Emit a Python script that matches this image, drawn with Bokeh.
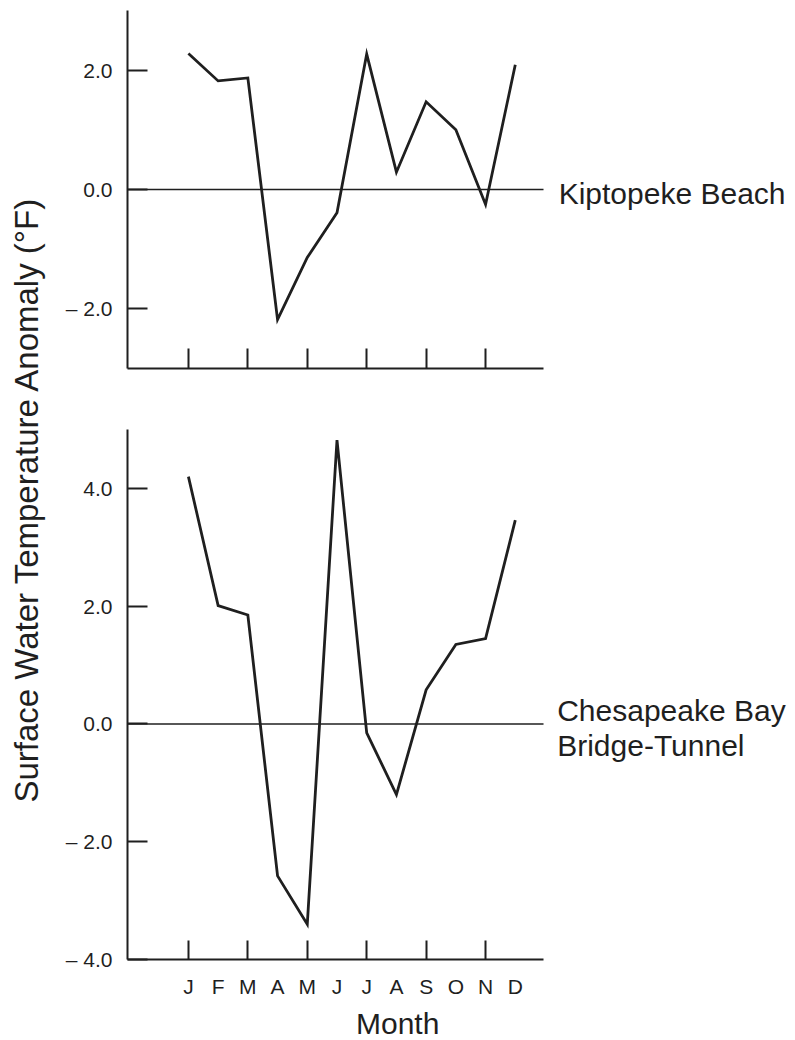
import math
from bokeh.plotting import figure
from bokeh.layouts import row, column
from bokeh.models import Range1d, FixedTicker, Label
from bokeh.embed import file_html
from bokeh.resources import INLINE

# ---- data ----
months = ["J", "F", "M", "A", "M", "J", "J", "A", "S", "O", "N", "D"]
month_num = list(range(1, 13))
kiptopeke = [2.28, 1.82, 1.87, -2.18, -1.14, -0.39, 2.27, 0.29, 1.47, 1.00, -0.25, 2.09]
cbbt = [4.20, 2.01, 1.85, -2.58, -3.40, 4.82, -0.15, -1.20, 0.58, 1.35, 1.45, 3.46]
tick_months = [1, 3, 5, 7, 9, 11]
top_yticks = [2, 0, -2]
top_ylabels = ["2.0", "0.0", "\u2013 2.0"]
bot_yticks = [4, 2, 0, -2, -4]
bot_ylabels = ["4.0", "2.0", "0.0", "\u2013 2.0", "\u2013 4.0"]

INK = "#1f1f1f"
FONT = "Liberation Sans"

# axis extent (months) and the full frame extent (room for the station labels)
X_LO, X_HI = -1.05, 12.95
X_FRAME_HI = 21.43


def style(p):
    p.grid.visible = False
    p.outline_line_color = None
    p.background_fill_color = "white"
    p.border_fill_color = "white"
    for ax in p.axis:
        ax.axis_line_color = INK
        ax.axis_line_width = 2
        ax.major_tick_line_color = INK
        ax.major_tick_line_width = 2
        ax.minor_tick_line_color = INK
        ax.minor_tick_line_width = 2
        ax.major_label_text_font = FONT
        ax.major_label_text_color = INK
        ax.major_label_text_font_size = "21px"
        ax.major_tick_out = 0
    p.xaxis.bounds = (X_LO, X_HI)


# ---- top panel ----
top = figure(width=745, height=400, x_range=Range1d(X_LO, X_FRAME_HI), y_range=Range1d(-3, 3),
             min_border_left=77, min_border_right=0, min_border_top=10, min_border_bottom=32,
             toolbar_location=None, output_backend="svg")
style(top)
top.segment(x0=[X_LO], y0=[0], x1=[X_HI], y1=[0], line_color=INK, line_width=1.6)
top.line(month_num, kiptopeke, line_color=INK, line_width=2.8, line_join="miter")
top.yaxis.ticker = FixedTicker(ticks=top_yticks)
top.yaxis.major_label_overrides = {t: l for t, l in zip(top_yticks, top_ylabels)}
top.yaxis.major_tick_in = 20
top.yaxis.major_label_standoff = 15
top.xaxis.ticker = FixedTicker(ticks=tick_months)
top.xaxis.major_tick_in = 20
top.xaxis.major_label_text_color = None
top.add_layout(Label(x=13.46, y=-0.07, text="Kiptopeke Beach", text_font=FONT,
                     text_font_size="30px", text_color=INK, text_baseline="alphabetic"))

# ---- bottom panel ----
bot = figure(width=745, height=600, x_range=Range1d(X_LO, X_FRAME_HI), y_range=Range1d(-4, 5),
             min_border_left=77, min_border_right=0, min_border_top=29, min_border_bottom=38,
             toolbar_location=None, output_backend="svg")
style(bot)
bot.segment(x0=[X_LO], y0=[0], x1=[X_HI], y1=[0], line_color=INK, line_width=1.6)
bot.line(month_num, cbbt, line_color=INK, line_width=2.8, line_join="miter")
bot.yaxis.ticker = FixedTicker(ticks=bot_yticks)
bot.yaxis.major_label_overrides = {t: l for t, l in zip(bot_yticks, bot_ylabels)}
bot.yaxis.major_tick_in = 20
bot.yaxis.major_label_standoff = 15
bot.xaxis.ticker = FixedTicker(ticks=month_num, minor_ticks=tick_months)
bot.xaxis.major_label_overrides = {m: l for m, l in zip(month_num, months)}
bot.xaxis.major_tick_in = 0
bot.xaxis.minor_tick_in = 19
bot.xaxis.minor_tick_out = 0
bot.xaxis.major_label_standoff = 15
bot.add_layout(Label(x=13.41, y=0.22, text="Chesapeake Bay", text_font=FONT,
                     text_font_size="30px", text_color=INK, text_baseline="alphabetic"))
bot.add_layout(Label(x=13.41, y=-0.37, text="Bridge-Tunnel", text_font=FONT,
                     text_font_size="30px", text_color=INK, text_baseline="alphabetic"))

# ---- x-axis title strip ----
mfig = figure(width=745, height=40, x_range=Range1d(X_LO - 77 / 29.73, X_FRAME_HI),
              y_range=Range1d(0, 40), x_axis_location=None, y_axis_location=None,
              min_border=0, toolbar_location=None, output_backend="svg")
mfig.grid.visible = False
mfig.outline_line_color = None
mfig.add_layout(Label(x=6.5, y=17, text="Month", text_font=FONT,
                      text_font_size="30px", text_color=INK, text_align="center",
                      text_baseline="alphabetic"))

# ---- y-axis title strip ----
tfig = figure(width=50, height=1040, x_range=Range1d(0, 50), y_range=Range1d(0, 1040),
              x_axis_location=None, y_axis_location=None, min_border=0,
              toolbar_location=None, output_backend="svg")
tfig.grid.visible = False
tfig.outline_line_color = None
tfig.add_layout(Label(x=26, y=1040 - 499, angle=math.pi / 2,
                      text="Surface Water Temperature Anomaly (\u00b0F)", text_font=FONT,
                      text_font_size="33px", text_color=INK, text_align="center",
                      text_baseline="alphabetic"))

layout = row(tfig, column(top, bot, mfig, spacing=0), spacing=0)

open("out.html", "w").write(file_html(layout, INLINE))
